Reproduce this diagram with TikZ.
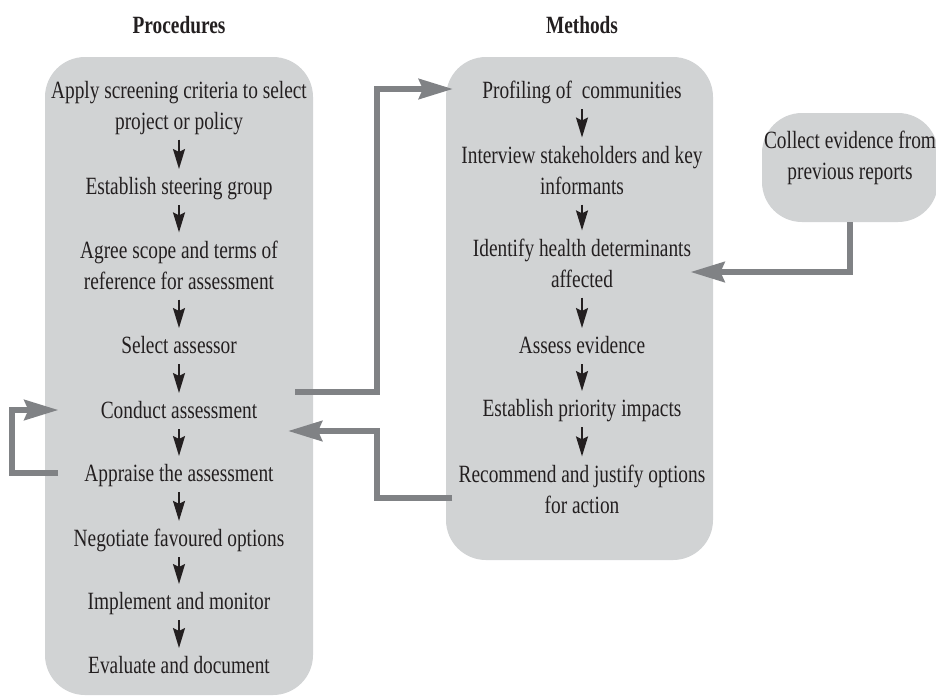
\documentclass[tikz,border=0pt]{standalone}
\usepackage{fontspec}
\setmainfont{Liberation Serif}[FakeStretch=0.78]
\usetikzlibrary{arrows.meta,calc}
\definecolor{panelgray}{HTML}{D1D3D4}
\definecolor{flowgray}{HTML}{808285}
\definecolor{ink}{HTML}{231F20}
\newcommand\ls{\rule[-3pt]{0pt}{11.5pt}}
\tikzset{
  panel/.style={fill=panelgray, rounded corners=20pt},
  txt/.style={align=center, text=ink, inner xsep=2pt, inner ysep=2pt, font=\fontsize{12.4}{15.5}\selectfont},
  head/.style={text=ink, font=\fontsize{12.4}{15.5}\selectfont\bfseries},
  down/.style={-{Stealth[length=10pt,width=6pt,inset=1.5pt]}, line width=1pt, draw=ink, shorten >=2pt},
  flow/.style={-{Stealth[length=17pt,width=10pt,inset=2pt]}, line width=3pt, draw=flowgray}
}
\begin{document}
\begin{tikzpicture}[x=0.5pt, y=-0.5pt]
        \useasboundingbox (0,0) rectangle (936,697);
        \path[panel] (45,57) rectangle (313,695);
        \path[panel] (446,57) rectangle (713,560);
        \node[panel, minimum width=88pt, minimum height=54.5pt] (coll) at (850,167.5) {};

        \node[head] (proc) at (179,25) {Procedures};
        \node[head] (meth) at (582,25) {Methods};

        \node[txt] (p1) at (179,108) {\ls Apply screening criteria to select\\\ls project or policy};
        \node[txt] (p2) at (179,189) {\ls Establish steering group};
        \node[txt] (p3) at (179,268) {\ls Agree scope and terms of\\\ls reference for assessment};
        \node[txt] (p4) at (179,348) {\ls Select assessor};
        \node[txt] (p5) at (179,413) {\ls Conduct assessment};
        \node[txt] (p6) at (179,476) {\ls Appraise the assessment};
        \node[txt] (p7) at (179,541) {\ls Negotiate favoured options};
        \node[txt] (p8) at (179,604) {\ls Implement and monitor};
        \node[txt] (p9) at (179,668) {\ls Evaluate and document};

        \node[txt] (m1) at (582,93) {\ls Profiling of~ communities};
        \node[txt] (m2) at (582,173) {\ls Interview stakeholders and key\\\ls informants};
        \node[txt] (m3) at (582,266) {\ls Identify health determinants\\\ls affected};
        \node[txt] (m4) at (582,348) {\ls Assess evidence};
        \node[txt] (m5) at (582,411) {\ls Establish priority impacts};
        \node[txt] (m6) at (582,492) {\ls Recommend and justify options\\\ls for action};

        \node[txt] (c1) at (850,158) {\ls Collect evidence from\\\ls previous reports};

        \coordinate (fwd) at (295,392);
        \coordinate (back) at (288,431);

        % Edges
        \foreach \a/\b in {p1/p2,p2/p3,p3/p4,p4/p5,p5/p6,p6/p7,p7/p8,p8/p9,m1/m2,m2/m3,m3/m4,m4/m5,m5/m6}
          \draw[down] (\a) -- (\b);
        \draw[flow] (fwd) -| (377,240) |- ($(m1.west)+(-25,-4)$);
        \draw[flow] ($(m6.west)+(-2,6)$) -| (377,460) |- (back);
        \draw[flow] ($(p6.west)+(-22,-3)$) -| (12,440) |- ($(p5.west)+(-38,-3)$);
        \draw[flow] (coll.south) |- ($(m3.east)+(-5,6)$);
\end{tikzpicture}
\end{document}
